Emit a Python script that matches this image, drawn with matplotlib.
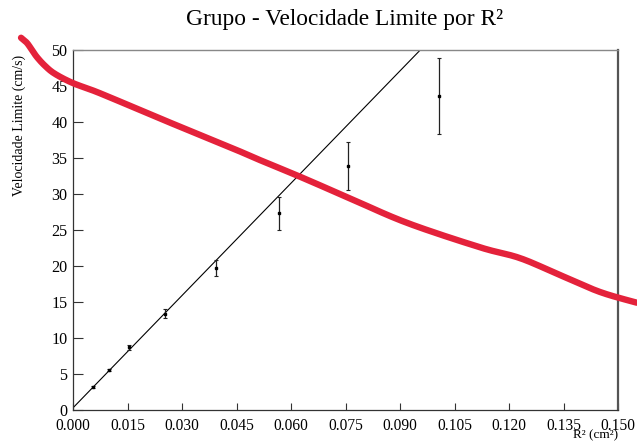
import numpy as np
import matplotlib
matplotlib.use("Agg")
import matplotlib.pyplot as plt

# ---- data ----
r2 = [0.0055, 0.0099, 0.0155, 0.0253, 0.0393, 0.0567, 0.0758, 0.1007]
vel = [3.2, 5.6, 8.7, 13.4, 19.7, 27.3, 33.9, 43.6]
vel_err = [0.15, 0.15, 0.3, 0.6, 1.1, 2.25, 3.35, 5.3]

fit_intercept = 0.3
fit_slope = 520.0

red_x = [-0.0143, -0.0127, -0.0113, -0.0099, -0.0077, -0.0050, 0.0, 0.0074,
         0.0239, 0.0350, 0.0460, 0.0515, 0.0625, 0.0762, 0.0919, 0.1120, 0.1230,
         0.1340, 0.1450, 0.1552]
red_y = [51.7, 51.0, 50.0, 49.0, 47.8, 46.7, 45.4, 44.0,
         40.5, 38.2, 35.9, 34.7, 32.4, 29.4, 26.0, 22.6, 21.1,
         18.75, 16.4, 14.9]

xticks = [0.000, 0.015, 0.030, 0.045, 0.060, 0.075, 0.090, 0.105, 0.120, 0.135, 0.150]
yticks = [0, 5, 10, 15, 20, 25, 30, 35, 40, 45, 50]

title = "Grupo - Velocidade Limite por R²"
xlabel = "R² (cm²)"
ylabel = "Velocidade Limite (cm/s)"

plt.rcParams['font.family'] = ['Liberation Serif', 'DejaVu Serif']


def catmull_rom(xs, ys, n=12):
    # smooth rendering of the stroke through the read points
    P = np.column_stack([xs, ys])
    P = np.vstack([P[0], P, P[-1]])
    out = []
    for i in range(1, len(P) - 2):
        p0, p1, p2, p3 = P[i - 1], P[i], P[i + 1], P[i + 2]
        for t in np.linspace(0, 1, n, endpoint=False):
            t2, t3 = t * t, t * t * t
            pt = 0.5 * ((2 * p1) + (-p0 + p2) * t + (2 * p0 - 5 * p1 + 4 * p2 - p3) * t2
                        + (-p0 + 3 * p1 - 3 * p2 + p3) * t3)
            out.append(pt)
    out.append(P[-2])
    out = np.array(out)
    return out[:, 0], out[:, 1]


fig = plt.figure(figsize=(6.37, 4.44), dpi=100)
ax = fig.add_axes([73/637, 34/444, 545/637, 360/444])
ax.set_xlim(0, 0.15)
ax.set_ylim(0, 50)

xx = np.array([0.0, 0.15])
ax.plot(xx, fit_intercept + fit_slope * xx, color='black', lw=0.8, zorder=2)

ax.errorbar(r2, vel, yerr=vel_err, fmt='s', ms=2, color='black', ecolor='#222222',
            elinewidth=0.9, capsize=1.2, capthick=0.8, zorder=3)

sx, sy = catmull_rom(red_x, red_y)
ax.plot(sx, sy, color='#e4223b', lw=4.6, solid_capstyle='round',
        solid_joinstyle='round', clip_on=False, zorder=5)

ax.set_xticks(xticks)
ax.set_xticklabels([f"{t:.3f}" for t in xticks])
ax.set_yticks(yticks)
ax.set_yticklabels([str(t) for t in yticks])
ax.tick_params(axis='x', direction='in', length=5, width=0.8, labelsize=11.2, pad=5.5, color='#333333')
ax.tick_params(axis='y', direction='in', length=7.5, width=0.8, labelsize=11.6, pad=4, color='#333333')

for s in ['left', 'bottom']:
    ax.spines[s].set_color('#333333')
    ax.spines[s].set_linewidth(0.9)
ax.spines['top'].set_color('#888888')
ax.spines['top'].set_linewidth(1.0)
ax.spines['right'].set_color('#555555')
ax.spines['right'].set_linewidth(1.6)

fig.text(345/637, 1 - 20/444, title, ha='center', va='center', fontsize=16.8)
fig.text(618/637, 3/444, xlabel, ha='right', va='bottom', fontsize=9.5)
fig.text(19/637, 1 - 125/444, ylabel, ha='center', va='center', rotation=90, fontsize=10)

fig.savefig("out.png", dpi=100)
